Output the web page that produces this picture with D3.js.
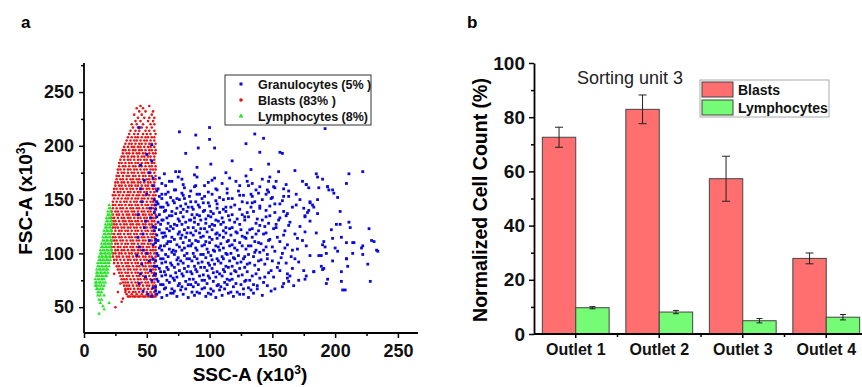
<!DOCTYPE html>
<html>
<head>
<meta charset="utf-8">
<script src="https://cdn.jsdelivr.net/npm/d3@7"></script>
<style>
  body { margin: 0; background: #fff; }
  svg { display: block; font-family: Arial, "Liberation Sans", sans-serif; }
</style>
</head>
<body>
<svg id="chart" width="862" height="387"></svg>
<script>
// ---------- panel a : flow cytometry scatter, SSC-A vs FSC-A (x10^3) ----------
// blue squares, "x,y" pairs
const granulocytes = `
58,62 62,59 66,61 71,63 74,60 79,62 83,59 88,61 92,63 97,60 101,62 105,59 110,61 115,63 119,60 124,62 131,59 142,61
60,64 64,67 69,63 72,65 77,66 81,67 86,64 90,64 94,67 99,63 103,65 108,66 112,67 117,64 122,64 127,67 135,63 149,65 208,66
57,69 61,71 65,68 70,67 75,70 78,69 83,71 87,69 91,71 96,68 101,67 106,70 109,69 114,71 119,69 125,71 131,68 138,67 146,70 158,69
59,74 63,71 68,73 72,75 76,72 81,74 85,71 89,73 94,75 98,72 103,74 107,71 112,73 116,75 121,72 128,74 135,71 143,73 171,75 193,72 228,74
58,76 62,79 66,75 71,77 74,78 79,79 84,76 87,76 92,79 96,75 100,77 105,78 110,79 114,76 118,76 123,79 132,75 140,77 151,78 177,79 194,76
57,81 61,83 65,80 69,79 73,82 78,81 82,83 86,81 90,83 95,80 99,79 103,82 108,81 112,83 117,81 121,83 126,80 134,79 147,82 162,81 183,83
60,86 64,83 67,85 72,87 76,84 80,86 85,83 89,85 93,87 98,84 102,86 106,83 111,85 115,87 120,84 124,86 130,83 139,85 154,87 175,84 191,86 205,83
58,88 62,91 66,87 70,89 75,90 79,91 83,88 88,88 91,91 96,87 100,89 104,90 109,91 113,88 118,88 122,91 128,87 136,89 144,90 161,91 189,88 210,88
57,93 61,95 65,92 69,91 74,94 77,93 82,95 86,93 90,95 94,92 99,91 102,94 107,93 111,95 116,93 120,95 125,92 132,91 141,94 150,93 168,95 198,93
59,98 63,95 67,97 72,99 75,96 80,98 84,95 88,97 93,99 97,96 101,98 106,95 110,97 114,99 119,96 123,98 127,95 135,97 146,99 157,96 180,98 209,95
58,100 62,103 65,99 70,101 73,102 78,103 82,100 87,100 90,103 95,99 99,101 104,102 108,103 113,100 117,100 122,103 131,99 140,101 152,102 166,103 193,100 214,100 233,103
60,105 64,107 68,104 71,103 76,106 80,105 85,107 89,105 94,107 98,104 103,103 107,106 111,105 116,107 120,105 126,107 129,104 137,103 145,106 160,105 177,107 200,105 222,107
57,110 61,107 66,109 69,111 74,108 79,110 83,107 86,109 91,111 96,108 100,110 105,107 109,109 114,111 118,108 124,110 133,107 141,109 156,111 190,108 215,110
59,112 63,115 67,111 72,113 77,114 81,115 84,112 89,112 93,115 97,111 102,113 106,114 111,115 115,112 120,112 128,115 136,111 148,113 170,114 205,115 229,112
58,117 62,119 65,116 70,115 75,118 78,117 82,119 87,117 92,119 95,116 100,115 105,118 108,117 113,119 117,117 122,119 126,116 134,115 143,118 159,117 185,119
60,122 64,119 68,121 71,123 76,120 80,122 85,119 89,121 93,123 98,120 102,122 106,119 111,121 116,123 121,120 125,122 130,119 139,121 151,123 176,120 197,122
57,124 61,127 66,123 69,125 74,126 78,127 83,124 87,124 91,127 96,123 100,125 104,126 109,127 113,124 118,124 124,127 134,123 144,125 163,126 201,127
59,129 63,131 67,128 72,127 76,130 81,129 85,131 88,129 93,131 97,128 102,127 107,130 111,129 116,131 120,129 128,131 137,128 153,127 180,130 211,129
58,134 62,131 66,133 70,135 75,132 79,134 84,131 88,133 92,135 97,132 101,134 105,131 110,133 115,135 122,132 131,134 142,131 156,133 176,135
60,136 64,139 68,135 73,137 77,138 82,139 86,136 90,136 95,139 99,135 103,137 108,138 113,139 118,136 126,136 135,139 148,135 162,137 178,138 204,139
57,141 61,143 65,140 70,139 74,142 79,141 83,143 87,141 92,143 96,140 101,139 106,142 111,141 117,143 124,141 133,143 145,140 159,139
59,146 63,143 67,145 72,147 77,144 81,146 86,143 91,145 95,147 100,144 106,146 113,143 120,145 130,147 140,144 152,146 183,143
58,148 62,151 66,147 71,149 76,150 80,151 85,148 89,148 94,151 99,147 105,149 111,150 118,151 126,148 136,148 149,151 180,147
60,153 65,155 69,152 74,151 79,154 84,153 90,155 96,153 102,155 108,152 115,151 124,154 134,153 145,155 159,153
58,158 62,155 67,157 73,159 78,156 85,158 92,155 99,157 106,159 114,156 123,158 133,155 147,157 198,159
59,160 65,163 72,159 80,161 88,162 96,163 105,160 114,160 124,163 137,159 152,161 194,162
62,165 70,167 79,164 89,163 99,166 110,165 121,167 134,165 147,167 177,164
60,170 68,167 78,169 90,171 102,168 116,170 130,167 142,169 186,171
64,174 75,171 88,173 104,170 113,175 129,172 155,176 168,177 211,174 222,176
127,62 133,66 138,70 129,75 144,78 137,81 149,84 130,90 139,93 146,95 155,91 128,97 136,101 143,103 150,106 158,100
131,107 139,110 147,112 154,115 162,108 129,114 137,118 145,119 153,124 160,121 132,122 140,126 147,128 155,131 164,129
128,134 138,132 145,134 152,138 161,135 130,138 140,142 148,144 156,146 166,143 134,147 142,150 150,152 158,149 172,150
127,154 139,156 146,159 163,158 131,163 140,162 153,167 161,164 148,171 165,97 170,104 168,118 172,125 166,86 171,92
164,79 159,72 152,67 167,70 174,112 156,84
73,176 76,176 81,193 91,198 101,183 90,180 104,198 118,186 133,178 129,202 140,194 136,211 143,207 100,217 100,206
89,210 76,213 192,216 156,194 158,193 147,183 174,167 177,164 179,161 194,162 195,159 199,156 202,152 209,165 186,150
180,148 182,145 175,142 179,140 186,137 176,134 185,174 190,169 187,161 151,162 163,153 159,160 169,155 169,145
231,111 227,123 234,102 221,105 226,90 206,66 162,77 163,74 205,74 190,85 183,83 176,76 187,98 189,98 192,106
191,111 209,95 202,102 198,114 209,110 222,99 214,110 204,127 212,124
44,217 54,201 45,182 52,175 48,168 55,163 50,155 46,148 53,142 43,136 49,130 55,125 47,118 52,112 44,106 50,100
55,95 46,90 53,84 49,78 44,72 55,68 51,62 47,65 54,75 56,88 42,98 55,108 48,124 53,133 56,150 45,160 54,186 50,192
56,138 43,115 47,103 52,93 45,81 54,60 57,65 56,80 57,113 56,121 57,145 55,170`;

// red circles, one line per FSC row -> "y: x x x ..."
const blasts = `
60: 35 36 37 39 40 41 43 44 45 47 48 49 51 52 53 55 56 57
62: 34 38 42 46 50 54 57
64: 33 36 39 41 44 47 50 53 56
67: 33 35 37 40 43 45 48 51 54 57
70: 32 34 36 39 42 44 47 50 52 55 57
73: 31 33 35 38 41 43 46 49 51 54 56
76: 30 32 34 37 40 43 45 48 50 53 56
79: 29 31 34 36 39 42 44 47 49 52 55 57
82: 28 30 33 35 38 41 43 46 49 51 54 56
85: 27 29 32 35 37 40 42 45 48 50 53 55 57
88: 26 28 31 34 36 39 42 44 47 49 52 54 57
91: 24 27 30 33 35 38 41 43 46 49 51 53 56
94: 24 26 29 32 35 37 40 42 45 48 50 53 55 57
97: 23 26 28 31 34 36 39 42 44 47 49 52 54 57
100: 23 25 28 30 33 36 38 41 43 46 49 51 53 56
103: 22 25 27 30 32 35 38 40 43 45 48 50 53 55 57
106: 22 24 27 29 32 34 37 39 42 45 47 50 52 55 57
109: 22 25 27 30 33 35 38 40 43 46 48 51 53 56
112: 22 24 26 29 31 34 37 39 42 44 47 49 52 54 57
115: 23 25 28 30 33 36 38 41 43 46 48 51 54 56
118: 22 24 27 29 32 35 37 40 42 45 47 50 53 55 57
121: 22 25 28 30 33 35 38 41 43 46 49 51 54 56
124: 23 25 27 30 32 35 37 40 42 45 48 50 53 55 57
127: 22 24 26 29 32 34 37 39 42 44 47 49 52 54 57
130: 23 25 28 31 33 36 38 41 43 46 49 51 54 56
133: 22 24 27 30 32 35 37 40 43 45 48 50 53 55 57
136: 23 26 28 31 34 36 39 41 44 47 49 52 54 57
139: 22 25 27 30 33 35 38 40 43 46 48 51 53 56
142: 23 26 29 31 34 37 39 42 44 47 50 52 55 57
145: 23 25 28 30 33 36 38 41 43 46 49 51 54 56
148: 23 26 29 32 34 37 40 42 45 47 50 53 55 57
151: 24 27 30 33 35 38 41 43 46 48 51 54 56
154: 23 25 28 31 34 36 39 42 44 47 49 52 55 57
157: 24 27 29 32 35 37 40 43 45 48 50 53 56
160: 24 26 29 31 34 37 39 42 45 47 50 52 55 57
163: 25 28 30 33 36 38 41 43 46 49 51 54 56
166: 25 27 30 32 35 38 40 43 45 48 51 53 56
169: 26 29 31 34 37 39 42 44 47 50 52 55 57
172: 26 28 31 34 36 39 41 44 47 49 52 54 57
175: 27 30 32 35 38 40 43 46 48 51 53 56
178: 27 29 32 35 37 40 42 45 48 50 53 55 57
181: 28 31 33 36 39 41 44 46 49 52 54 57
184: 28 30 33 36 38 41 43 46 49 51 54 56
187: 29 32 35 37 40 43 45 48 50 53 56
190: 30 32 35 38 40 43 46 48 51 53 56
193: 31 34 36 39 42 44 47 49 52 55 57
196: 31 33 36 39 41 44 46 49 52 54 57
199: 32 35 38 40 43 45 48 51 53 56
202: 33 36 38 41 44 46 49 52 54 57
205: 34 37 40 42 45 48 50 53 56
208: 35 38 41 43 46 49 51 54 56
211: 36 40 43 47 50 53 57
214: 37 41 44 49 52 56
217: 39 43 46 50 54
220: 38 42 47 53 56
223: 41 45 51 55
226: 43 48 52 56
229: 40 46 54
232: 44 49 55
235: 42 47
237: 45 52
50: 25
55: 30
58: 31
64: 27
66: 33
72: 29
81: 24`;

// green triangles, same row format
const lymphocytes = `
145: 20
142: 20 21
139: 19 21
136: 19 20 22
133: 18 20 21
130: 18 19 21 22
127: 17 19 20 22
124: 17 18 20 21
121: 16 18 19 21 22
118: 16 17 19 20 22
115: 15 17 18 20 21
112: 15 16 18 19 21 22
109: 14 16 17 19 20 22
106: 14 15 17 18 20 21
103: 13 15 16 18 19 21 22
100: 13 14 16 17 19 20 22
97: 12 14 15 17 18 20 21
94: 12 13 15 16 18 19 21
91: 11 13 14 16 17 19 20
88: 11 12 14 15 17 18 20
85: 10 12 13 15 16 18 19
82: 10 11 13 14 16 17 19
79: 10 11 12 14 15 17 18
76: 9 11 12 14 15 16
73: 9 10 12 13 15 17
70: 9 10 12 14 16
67: 10 11 13 15
64: 11 12 14
61: 11 13 16
57: 12 14
54: 13 20
51: 15
48: 16
44: 12`;

const populations = ["Granulocytes (5% )", "Blasts (83% )", "Lymphocytes (8%)"];
const xTicksA = [0, 50, 100, 150, 200, 250];
const yTicksA = [50, 100, 150, 200, 250];

// ---------- panel b : normalized cell count per outlet ----------
const outlets = ["Outlet 1", "Outlet 2", "Outlet 3", "Outlet 4"];
const blastsPct = [72.6, 82.9, 57.3, 27.9];
const blastsErr = [3.7, 5.3, 8.3, 2.0];
const lymphPct = [9.7, 8.1, 4.9, 6.2];
const lymphErr = [0.4, 0.6, 0.8, 1.0];
const seriesB = ["Blasts", "Lymphocytes"];
const yTicksB = [0, 20, 40, 60, 80, 100];

const parsePairs = s => s.trim().split(/\s+/).map(p => p.split(",").map(Number));
const parseRows = s => s.trim().split("\n").flatMap(line => {
  const [y, xs] = line.split(":");
  return xs.trim().split(/\s+/).map(x => [+x, +y]);
});

const svg = d3.select("#chart");
const RED = "#ea1212", BLUE = "#0a0ae0", GREEN = "#22e622";

// small helper: superscript "3" in the axis titles
function x10Title(sel, name) {
  sel.append("tspan").text(name + " (x10");
  sel.append("tspan").attr("dy", -7).attr("font-size", 12).text("3");
  sel.append("tspan").attr("dy", 7).text(")");
}

// ===== panel a =====
const xa = d3.scaleLinear().domain([0, 266]).range([84, 418]);
const ya = d3.scaleLinear().domain([26, 277]).range([333, 63]);

const gA = svg.append("g");

gA.append("g").selectAll("circle")
  .data(parseRows(blasts))
  .join("circle")
  .attr("cx", d => xa(d[0]))
  .attr("cy", d => ya(d[1]))
  .attr("r", 1.3)
  .attr("fill", RED);

gA.append("g").selectAll("rect")
  .data(parsePairs(granulocytes))
  .join("rect")
  .attr("x", d => xa(d[0]) - 1.4)
  .attr("y", d => ya(d[1]) - 1.4)
  .attr("width", 2.8)
  .attr("height", 2.8)
  .attr("fill", BLUE);

const tri = d3.symbol(d3.symbolTriangle).size(5.5);
gA.append("g").selectAll("path")
  .data(parseRows(lymphocytes))
  .join("path")
  .attr("transform", d => `translate(${xa(d[0])},${ya(d[1])})`)
  .attr("d", tri)
  .attr("fill", GREEN);

// axes a
const axA = gA.append("g").attr("transform", "translate(0,333)")
  .call(d3.axisBottom(xa).tickValues(xTicksA).tickSize(5).tickPadding(6).tickSizeOuter(0));
gA.append("g").attr("transform", "translate(0,333)")
  .call(d3.axisBottom(xa).tickValues([25, 75, 125, 175, 225]).tickSize(3).tickFormat("").tickSizeOuter(0))
  .select(".domain").remove();
const ayA = gA.append("g").attr("transform", "translate(84,0)")
  .call(d3.axisLeft(ya).tickValues(yTicksA).tickSize(5).tickPadding(5).tickSizeOuter(0));
gA.append("g").attr("transform", "translate(84,0)")
  .call(d3.axisLeft(ya).tickValues([75, 125, 175, 225, 275]).tickSize(3).tickFormat("").tickSizeOuter(0))
  .select(".domain").remove();

// stretch the axis lines to the full frame
axA.select(".domain").attr("d", "M84,0H418");
ayA.select(".domain").attr("d", "M0,63V333");

// legend a
const legA = gA.append("g");
legA.append("rect").attr("x", 225).attr("y", 75).attr("width", 146).attr("height", 50)
  .attr("fill", "#fff").attr("stroke", "#333").attr("stroke-width", 1);
populations.forEach((p, i) => {
  const cy = 84 + i * 16;
  if (i === 0) legA.append("rect").attr("x", 239.5).attr("y", cy - 1.5).attr("width", 3).attr("height", 3).attr("fill", BLUE);
  if (i === 1) legA.append("circle").attr("cx", 241).attr("cy", cy).attr("r", 1.8).attr("fill", RED);
  if (i === 2) legA.append("path").attr("transform", `translate(241,${cy})`).attr("d", d3.symbol(d3.symbolTriangle).size(10)).attr("fill", GREEN);
  legA.append("text").attr("x", 258).attr("y", cy + 4.5)
    .attr("font-size", 12.5).attr("font-weight", "bold").attr("fill", "#111").text(p);
});

gA.append("text").attr("x", 250).attr("y", 381).attr("text-anchor", "middle")
  .attr("font-size", 19).attr("font-weight", "bold").call(x10Title, "SSC-A");
gA.append("text").attr("transform", "translate(32,198) rotate(-90)").attr("text-anchor", "middle")
  .attr("font-size", 19).attr("font-weight", "bold").call(x10Title, "FSC-A");
gA.append("text").attr("x", 21).attr("y", 28).attr("font-size", 17).attr("font-weight", "bold").text("a");

// ===== panel b =====
const xb = d3.scaleBand().domain(outlets).range([534, 868]).paddingInner(0.2).paddingOuter(0.1);
const xsub = d3.scaleBand().domain(seriesB).range([0, xb.bandwidth()]);
const yb = d3.scaleLinear().domain([0, 100]).range([334, 63]);

const gB = svg.append("g");
const rows = outlets.map((o, i) => ({ o, vals: [[blastsPct[i], blastsErr[i]], [lymphPct[i], lymphErr[i]]] }));
const fills = ["#ff6f6f", "#75fb75"];

rows.forEach(r => {
  r.vals.forEach(([v, e], j) => {
    const x0 = xb(r.o) + xsub(seriesB[j]);
    const w = xsub.bandwidth();
    gB.append("rect").attr("x", x0).attr("y", yb(v)).attr("width", w).attr("height", yb(0) - yb(v))
      .attr("fill", fills[j]).attr("stroke", "#444").attr("stroke-width", 1);
    const cx = x0 + w / 2, cap = j === 0 ? 4 : 3;
    gB.append("path")
      .attr("d", `M${cx},${yb(v + e)}V${yb(v - e)}M${cx - cap},${yb(v + e)}H${cx + cap}M${cx - cap},${yb(v - e)}H${cx + cap}`)
      .attr("stroke", "#222").attr("stroke-width", 1).attr("fill", "none");
  });
});

const axB = gB.append("g").attr("transform", "translate(0,334)")
  .call(d3.axisBottom(xb).tickSize(4).tickPadding(6).tickSizeOuter(0));
axB.select(".domain").attr("d", "M534,0H862");
gB.append("g").attr("transform", "translate(0,334)").selectAll("line")
  .data(outlets.slice(1))
  .join("line")
  .attr("x1", d => xb(d) - xb.step() * xb.paddingInner() / 2)
  .attr("x2", d => xb(d) - xb.step() * xb.paddingInner() / 2)
  .attr("y1", 0).attr("y2", 3).attr("stroke", "#000").attr("stroke-width", 1.5);

const ayB = gB.append("g").attr("transform", "translate(534,0)")
  .call(d3.axisLeft(yb).tickValues(yTicksB).tickSize(5).tickPadding(4).tickSizeOuter(0));
gB.append("g").attr("transform", "translate(534,0)")
  .call(d3.axisLeft(yb).tickValues([10, 30, 50, 70, 90]).tickSize(3).tickFormat("").tickSizeOuter(0))
  .select(".domain").remove();

// legend b
const legB = gB.append("g");
legB.append("rect").attr("x", 700).attr("y", 80).attr("width", 129).attr("height", 37)
  .attr("fill", "#fff").attr("stroke", "#aaa").attr("stroke-width", 1);
seriesB.forEach((s, j) => {
  const y0 = 82 + j * 18;
  legB.append("rect").attr("x", 702).attr("y", y0).attr("width", 31).attr("height", 15)
    .attr("fill", fills[j]).attr("stroke", "#444").attr("stroke-width", 1);
  legB.append("text").attr("x", 738).attr("y", y0 + 12.5).attr("font-size", 14).attr("font-weight", "bold")
    .attr("fill", "#111").text(s);
});

gB.append("text").attr("x", 630).attr("y", 84).attr("text-anchor", "middle")
  .attr("font-size", 18).attr("fill", "#222").text("Sorting unit 3");
gB.append("text").attr("transform", "translate(487,200) rotate(-90)").attr("text-anchor", "middle")
  .attr("font-size", 19.5).attr("font-weight", "bold").text("Normalized Cell Count (%)");
gB.append("text").attr("x", 467).attr("y", 28).attr("font-size", 17).attr("font-weight", "bold").text("b");

// shared axis styling
svg.selectAll(".domain").attr("stroke", "#000").attr("stroke-width", 1.8);
svg.selectAll(".tick line").attr("stroke", "#000").attr("stroke-width", 1.5);
axA.selectAll(".tick text").attr("font-size", 18).attr("font-weight", "bold").attr("fill", "#111");
ayA.selectAll(".tick text").attr("font-size", 18).attr("font-weight", "bold").attr("fill", "#111");
axB.selectAll(".tick text").attr("font-size", 16).attr("font-weight", "bold").attr("fill", "#111");
ayB.selectAll(".tick text").attr("font-size", 19).attr("font-weight", "bold").attr("fill", "#111");
</script>
</body>
</html>
